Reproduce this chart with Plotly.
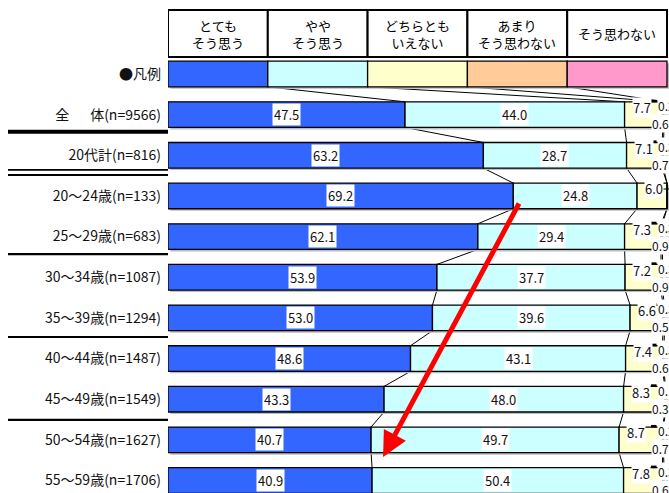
import plotly.graph_objects as go

# Survey answer categories (column headers)
answer_lines = [
    ["とても", "そう思う"],
    ["やや", "そう思う"],
    ["どちらとも", "いえない"],
    ["あまり", "そう思わない"],
    ["そう思わない"],
]
colors = ["#3366FF", "#CCFFFF", "#FFFFCC", "#FFCC99", "#FF99CC"]

# Legend row: five equal swatches
legend_label = "●凡例"
legend_values = [20, 20, 20, 20, 20]

# Respondent groups
groups = [
    "全　\u2002体(n=9566)", "20代計(n=816)", "20〜24歳(n=133)", "25〜29歳(n=683)",
    "30〜34歳(n=1087)", "35〜39歳(n=1294)", "40〜44歳(n=1487)", "45〜49歳(n=1549)",
    "50〜54歳(n=1627)", "55〜59歳(n=1706)",
]
very_much = [47.5, 63.2, 69.2, 62.1, 53.9, 53.0, 48.6, 43.3, 40.7, 40.9]
somewhat = [44.0, 28.7, 24.8, 29.4, 37.7, 39.6, 43.1, 48.0, 49.7, 50.4]
neither = [7.7, 7.1, 6.0, 7.3, 7.2, 6.6, 7.4, 8.3, 8.7, 7.8]
not_really = [0.2, 0.3, 0.0, 0.3, 0.3, 0.3, 0.3, 0.1, 0.2, 0.3]
not_at_all = [0.6, 0.7, 0.0, 0.9, 0.9, 0.5, 0.6, 0.3, 0.7, 0.6]

series = [very_much, somewhat, neither, not_really, not_at_all]

row_labels = [legend_label] + groups
rows = [legend_values] + [list(v) for v in zip(*series)]
ypos = list(range(len(rows)))
BAR_W = 0.63
FONT = "Noto Sans CJK JP"
VAL_FONT = dict(family=FONT, size=13, color="#111111")
SMALL_FONT = dict(family=FONT, size=12, color="#111111")

# cumulative starts per row
starts = []
for r in rows:
    s, acc = [], 0.0
    for v in r:
        s.append(acc)
        acc += v
    starts.append(s)

fig = go.Figure()

# drop shadow behind each bar
totals = [sum(r) for r in rows]
fig.add_trace(go.Bar(
    x=totals, y=ypos, base=[0.45] * len(rows), orientation="h",
    width=BAR_W, offset=-BAR_W / 2 + 0.05,
    marker=dict(color="#BDBDBD", line=dict(width=0)),
    hoverinfo="skip", showlegend=False,
))

for k in range(5):
    fig.add_trace(go.Bar(
        x=[r[k] for r in rows], y=ypos,
        base=[s[k] for s in starts], orientation="h",
        width=BAR_W,
        marker=dict(color=colors[k], line=dict(color="#000000", width=1.3)),
        showlegend=False, hoverinfo="skip",
    ))

shapes = []
annotations = []

# connector lines between segment boundaries of consecutive rows
for i in range(len(rows) - 1):
    for k in range(1, 5):
        shapes.append(dict(
            type="line", xref="x", yref="y",
            x0=starts[i][k], y0=ypos[i] + BAR_W / 2,
            x1=starts[i + 1][k], y1=ypos[i + 1] - BAR_W / 2,
            line=dict(color="#000000", width=1), layer="below",
        ))

# value labels
for i in range(1, len(rows)):
    r, s, y = rows[i], starts[i], ypos[i]
    for k in (0, 1):
        annotations.append(dict(
            x=s[k] + r[k] / 2, y=y, xref="x", yref="y", text=f"{r[k]:.1f}",
            showarrow=False, bgcolor="#FFFFFF", borderpad=1, font=VAL_FONT,
        ))
    annotations.append(dict(
        x=s[2], y=y, xref="x", yref="y", text=f"{r[2]:.1f}",
        xanchor="left", xshift=7, yshift=7, showarrow=False,
        bgcolor="#FFFFFF", borderpad=0, font=VAL_FONT,
    ))
    if r[3] > 0:
        annotations.append(dict(
            x=98.0, y=y, xref="x", yref="y", text=f"{r[3]:.1f}",
            xanchor="left", yshift=9, showarrow=False,
            bgcolor="#FFFFFF", borderpad=0, font=SMALL_FONT,
        ))
        shapes.append(dict(
            type="line", xref="x", yref="y", x0=96.8, x1=97.9,
            y0=y - BAR_W / 2 - 0.02, y1=y - BAR_W / 2 - 0.02,
            line=dict(color="#000000", width=2.5),
        ))
    if r[4] > 0:
        annotations.append(dict(
            x=96.8, y=y, xref="x", yref="y", text=f"{r[4]:.1f}",
            xanchor="left", yshift=-9, showarrow=False,
            bgcolor="#FFFFFF", borderpad=0, font=SMALL_FONT,
        ))
    else:
        shapes.append(dict(
            type="line", xref="x", yref="y", x0=98.6, x1=101,
            y0=y - 0.17, y1=y - 0.17, line=dict(color="#000000", width=1),
        ))

# header table
HEAD_TOP, HEAD_BOT = -1.574, -0.418
for k, lines in enumerate(answer_lines):
    x0, x1 = 20 * k, 20 * (k + 1)
    shapes.append(dict(
        type="rect", xref="x", yref="y", x0=x0, x1=x1, y0=HEAD_TOP, y1=HEAD_BOT,
        fillcolor="#FFFFFF", line=dict(color="#000000", width=2),
    ))
    annotations.append(dict(
        x=(x0 + x1) / 2, y=(HEAD_TOP + HEAD_BOT) / 2, xref="x", yref="y",
        text="<br>".join(lines), showarrow=False,
        font=dict(family=FONT, size=13, color="#000000"),
    ))

# group separators in the label column
def px(p):
    return (p - 168) / 501

def sep(y, w):
    shapes.append(dict(
        type="line", xref="paper", yref="y", x0=px(8), x1=px(168), y0=y, y1=y,
        line=dict(color="#000000", width=w),
    ))

sep(1.42, 4)
sep(2.36, 1.8)
sep(2.485, 1.8)
sep(4.43, 2.2)
sep(6.47, 2.2)
sep(8.51, 2.2)

# trend arrow
annotations.append(dict(
    x=43.1, y=9.42, ax=70.5, ay=3.15, xref="x", yref="y", axref="x", ayref="y",
    text="", showarrow=True, arrowhead=2, arrowsize=1, arrowwidth=5,
    arrowcolor="#FF0000",
))

fig.update_layout(
    width=669, height=493,
    margin=dict(l=168, r=0, t=0, b=0),
    paper_bgcolor="#FFFFFF", plot_bgcolor="#FFFFFF",
    barmode="overlay",
    shapes=shapes, annotations=annotations,
    xaxis=dict(range=[0, 100.4], visible=False, fixedrange=True),
    yaxis=dict(
        range=[10.308, -1.820], tickmode="array", tickvals=ypos, ticktext=row_labels,
        showgrid=False, zeroline=False, showline=False, ticks="",
        ticklabelstandoff=6,
        tickfont=dict(family=FONT, size=14, color="#111111"),
    ),
)

fig.write_html("out.html")
